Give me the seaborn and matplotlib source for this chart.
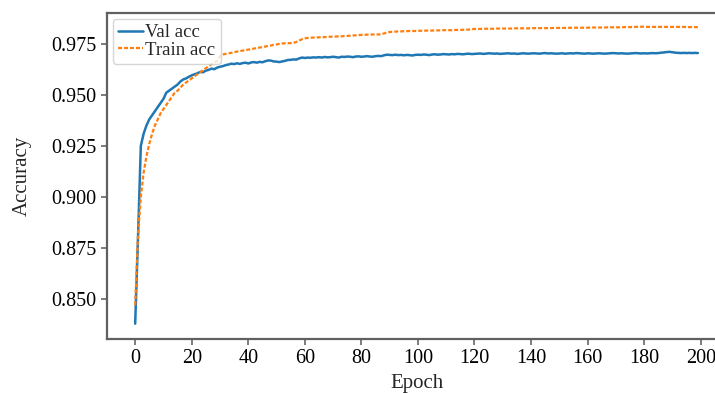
import numpy as np
import pandas as pd
import seaborn as sns
import matplotlib
matplotlib.use("Agg")
import matplotlib.pyplot as plt

# accuracy per epoch
val_acc = [
    0.838, 0.880, 0.925, 0.931, 0.935, 0.938, 0.940, 0.942, 0.944, 0.946,
    0.948, 0.951, 0.952, 0.953, 0.954, 0.955, 0.9565, 0.9575, 0.958, 0.9588,
    0.9595, 0.9600, 0.9605, 0.9612, 0.9610, 0.9618, 0.9622, 0.9628, 0.9625, 0.9633,
    0.9637, 0.9640, 0.9645, 0.9648, 0.9652, 0.9650, 0.9654, 0.9651, 0.9655, 0.9657,
    0.9653, 0.9658, 0.9660, 0.9657, 0.9661, 0.9659, 0.9664, 0.9668, 0.9667, 0.9663,
    0.9662, 0.9660, 0.9663, 0.9666, 0.9670, 0.9671, 0.9673, 0.9672, 0.9678, 0.9682,
    0.9680, 0.9682, 0.9681, 0.9683, 0.9682, 0.9684, 0.9682, 0.9685, 0.9683, 0.9684,
    0.9686, 0.9684, 0.9682, 0.9686, 0.9685, 0.9687, 0.9686, 0.9684, 0.9687, 0.9688,
    0.9686, 0.9687, 0.9689, 0.9687, 0.9686, 0.9689, 0.9690, 0.9689, 0.9693, 0.9696,
    0.9695, 0.9694, 0.9696, 0.9694, 0.9695, 0.9693, 0.9695, 0.9694, 0.9692, 0.9695,
    0.9696, 0.9695, 0.9697, 0.9696, 0.9694, 0.9697, 0.9698, 0.9696, 0.9697, 0.9699,
    0.9698, 0.9697, 0.9699, 0.9698, 0.9700, 0.9699, 0.9698, 0.9700, 0.9701, 0.9699,
    0.9700, 0.9701, 0.9702, 0.9700, 0.9701, 0.9703, 0.9702, 0.9701, 0.9702, 0.9700,
    0.9701, 0.9702, 0.9703, 0.9701, 0.9702, 0.9700, 0.9701, 0.9703, 0.9702, 0.9701,
    0.9702, 0.9703, 0.9702, 0.9701, 0.9703, 0.9704, 0.9702, 0.9703, 0.9702, 0.9701,
    0.9702, 0.9703, 0.9701, 0.9702, 0.9703, 0.9702, 0.9704, 0.9703, 0.9702, 0.9701,
    0.9703, 0.9702, 0.9701, 0.9702, 0.9703, 0.9702, 0.9701, 0.9702, 0.9703, 0.9704,
    0.9703, 0.9702, 0.9703, 0.9702, 0.9701, 0.9702, 0.9703, 0.9704, 0.9703, 0.9702,
    0.9703, 0.9702, 0.9703, 0.9704, 0.9703, 0.9704, 0.9706, 0.9707, 0.9709, 0.9710,
    0.9708, 0.9706, 0.9705, 0.9704, 0.9705, 0.9704, 0.9705, 0.9704, 0.9705, 0.9704,
]

train_acc = [
    0.847, 0.881, 0.900, 0.912, 0.920, 0.926, 0.931, 0.935, 0.938, 0.941,
    0.943, 0.945, 0.947, 0.949, 0.951, 0.952, 0.9535, 0.955, 0.956, 0.957,
    0.958, 0.959, 0.960, 0.961, 0.962, 0.963, 0.964, 0.965, 0.9657, 0.9665,
    0.9690, 0.9697, 0.9700, 0.9703, 0.9705, 0.9708, 0.9711, 0.9714, 0.9716, 0.9718,
    0.9721, 0.9723, 0.9726, 0.9728, 0.9731, 0.9733, 0.9736, 0.9739, 0.9741, 0.9744,
    0.9746, 0.9749, 0.9751, 0.9752, 0.9752, 0.9753, 0.9754, 0.9758, 0.9765, 0.9772,
    0.9776, 0.9778, 0.9779, 0.9780, 0.9780, 0.9781, 0.9782, 0.9782, 0.9783, 0.9784,
    0.9784, 0.9785, 0.9786, 0.9786, 0.9787, 0.9788, 0.9789, 0.9790, 0.9791, 0.9792,
    0.9793, 0.9793, 0.9794, 0.9794, 0.9795, 0.9795, 0.9795, 0.9796, 0.9800, 0.9804,
    0.9807, 0.9808, 0.9809, 0.9810, 0.9810, 0.9811, 0.9811, 0.9812, 0.9812, 0.9812,
    0.9813, 0.9813, 0.9813, 0.9814, 0.9814, 0.9814, 0.9815, 0.9815, 0.9815, 0.9816,
    0.9816, 0.9816, 0.9816, 0.9817, 0.9817, 0.9817, 0.9818, 0.9818, 0.9819, 0.9821,
    0.9822, 0.9822, 0.9822, 0.9823, 0.9823, 0.9823, 0.9823, 0.9823, 0.9824, 0.9824,
    0.9824, 0.9824, 0.9824, 0.9824, 0.9825, 0.9825, 0.9825, 0.9825, 0.9825, 0.9825,
    0.9825, 0.9826, 0.9826, 0.9826, 0.9826, 0.9826, 0.9826, 0.9826, 0.9827, 0.9827,
    0.9827, 0.9827, 0.9827, 0.9827, 0.9828, 0.9828, 0.9828, 0.9828, 0.9828, 0.9828,
    0.9828, 0.9829, 0.9829, 0.9829, 0.9829, 0.9829, 0.9829, 0.9830, 0.9830, 0.9830,
    0.9830, 0.9830, 0.9830, 0.9831, 0.9831, 0.9831, 0.9832, 0.9832, 0.9833, 0.9833,
    0.9833, 0.9832, 0.9832, 0.9832, 0.9832, 0.9832, 0.9832, 0.9832, 0.9832, 0.9832,
    0.9832, 0.9832, 0.9832, 0.9832, 0.9832, 0.9831, 0.9831, 0.9831, 0.9831, 0.9831,
]

epochs = list(range(len(val_acc)))
df = pd.DataFrame({"epoch": epochs, "val": val_acc, "train": train_acc})

sns.set_style("ticks")
plt.rcParams["font.family"] = ["Liberation Serif", "DejaVu Serif"]
plt.rcParams["xtick.color"] = "#666666"
plt.rcParams["ytick.color"] = "#666666"
plt.rcParams["xtick.labelcolor"] = "black"
plt.rcParams["ytick.labelcolor"] = "black"

fig = plt.figure(figsize=(7.15, 3.93), dpi=100)
ax = fig.add_axes([0.1497, 0.1374, 0.8657, 0.8295])

sns.lineplot(data=df, x="epoch", y="val", ax=ax, color="#1f77b4",
             linewidth=1.8, label="Val acc")
sns.lineplot(data=df, x="epoch", y="train", ax=ax, color="#ff7f0e",
             linewidth=1.6, linestyle=(0, (1.8, 0.9)), label="Train acc")

ax.set_xlim(-9.95, 208.95)
ax.set_ylim(0.8305, 0.9900)
ax.set_xticks(range(0, 201, 20))
ax.set_yticks([0.850, 0.875, 0.900, 0.925, 0.950, 0.975])
ax.set_yticklabels(["0.850", "0.875", "0.900", "0.925", "0.950", "0.975"])
ax.tick_params(labelsize=14.5, length=4, width=1.2)
for side in ["top", "right", "left", "bottom"]:
    ax.spines[side].set_visible(True)
    ax.spines[side].set_color("#606060")
    ax.spines[side].set_linewidth(1.6)
    ax.spines[side].set_zorder(5)
ax.set_xlabel("Epoch", fontsize=15)
ax.set_ylabel("Accuracy", fontsize=15, labelpad=14)

ax.legend(loc="upper left", fontsize=13.5, handlelength=1.3, handletextpad=0.15,
          labelspacing=0.0, borderpad=0.3, borderaxespad=0.3, frameon=True)

fig.savefig("out.png", dpi=100)
